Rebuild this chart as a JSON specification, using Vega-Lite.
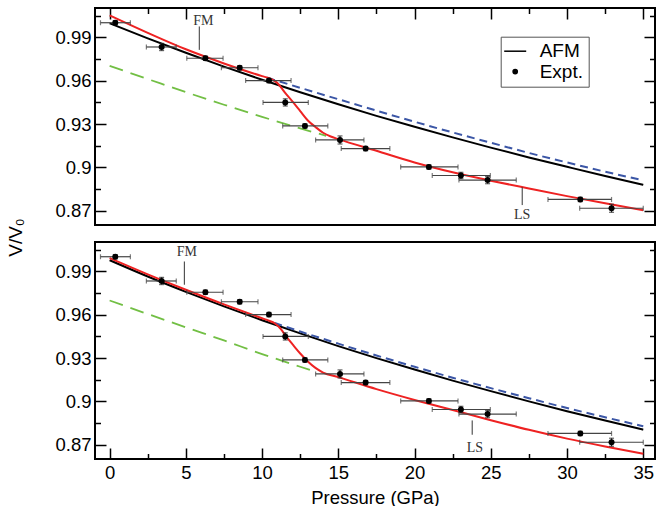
{
 "$schema": "https://vega.github.io/schema/vega-lite/v6.json",
 "padding": {"left": 5, "top": 5, "right": 0, "bottom": 0},
 "background": "white",
 "spacing": 17,
 "bounds": "flush",
 "config": {
  "view": {"stroke": "black", "strokeWidth": 2},
  "font": "Liberation Sans",
  "axis": {"domain": false, "grid": false, "tickColor": "black", "tickWidth": 1.5, "labelColor": "black", "labelFont": "Liberation Sans", "labelFontSize": 18.5, "titleFont": "Liberation Sans", "titleFontWeight": "normal", "titleColor": "black", "labelOverlap": false, "labelFlush": false, "labelBound": false}
 },
 "datasets": {
  "expt": [
   {"p": 0.37, "v": 1.0002, "xlo": -0.6, "xhi": 1.36, "ylo": 0.9987, "yhi": 1.0017},
   {"p": 3.41, "v": 0.9834, "xlo": 2.41, "xhi": 4.37, "ylo": 0.9809, "yhi": 0.9859},
   {"p": 6.28, "v": 0.9756, "xlo": 5.06, "xhi": 7.44, "ylo": 0.9741, "yhi": 0.9771},
   {"p": 8.53, "v": 0.969, "xlo": 7.33, "xhi": 9.73, "ylo": 0.9675, "yhi": 0.9705},
   {"p": 10.45, "v": 0.9601, "xlo": 8.92, "xhi": 11.9, "ylo": 0.9586, "yhi": 0.9616},
   {"p": 11.52, "v": 0.945, "xlo": 10.06, "xhi": 13.03, "ylo": 0.9425, "yhi": 0.9475},
   {"p": 12.81, "v": 0.9287, "xlo": 11.35, "xhi": 14.31, "ylo": 0.9272, "yhi": 0.9302},
   {"p": 15.11, "v": 0.919, "xlo": 13.51, "xhi": 16.68, "ylo": 0.9162, "yhi": 0.9218},
   {"p": 16.79, "v": 0.913, "xlo": 15.19, "xhi": 18.38, "ylo": 0.9115, "yhi": 0.9145},
   {"p": 20.94, "v": 0.9003, "xlo": 19.09, "xhi": 22.85, "ylo": 0.8988, "yhi": 0.9018},
   {"p": 23.04, "v": 0.8944, "xlo": 21.16, "xhi": 24.97, "ylo": 0.8922, "yhi": 0.8966},
   {"p": 24.79, "v": 0.8912, "xlo": 22.91, "xhi": 26.67, "ylo": 0.8887, "yhi": 0.8937},
   {"p": 30.87, "v": 0.8778, "xlo": 28.75, "xhi": 32.92, "ylo": 0.8763, "yhi": 0.8793},
   {"p": 32.92, "v": 0.8717, "xlo": 30.83, "xhi": 35.0, "ylo": 0.8689, "yhi": 0.8745}
  ],
  "top_black": [
   {"p": 0, "v": 0.9998}, {"p": 2.5, "v": 0.9894}, {"p": 5, "v": 0.9794}, {"p": 7.5, "v": 0.9698}, {"p": 10, "v": 0.9607}, {"p": 12.5, "v": 0.952}, {"p": 15, "v": 0.9437}, {"p": 17.5, "v": 0.9357}, {"p": 20, "v": 0.9281}, {"p": 22.5, "v": 0.9208}, {"p": 25, "v": 0.9137}, {"p": 27.5, "v": 0.9069}, {"p": 30, "v": 0.9004}, {"p": 32.5, "v": 0.894}, {"p": 35, "v": 0.8879}
  ],
  "top_red": [
   {"p": 0, "v": 1.0053}, {"p": 2.5, "v": 0.9932}, {"p": 5, "v": 0.9818}, {"p": 7.5, "v": 0.972}, {"p": 10, "v": 0.9632}, {"p": 10.5, "v": 0.9616}, {"p": 11, "v": 0.9585}, {"p": 11.5, "v": 0.9518}, {"p": 12, "v": 0.9455}, {"p": 12.5, "v": 0.939}, {"p": 13, "v": 0.9325}, {"p": 13.5, "v": 0.928}, {"p": 14, "v": 0.924}, {"p": 14.5, "v": 0.9214}, {"p": 15, "v": 0.9196}, {"p": 17.5, "v": 0.9115}, {"p": 20, "v": 0.9034}, {"p": 22.5, "v": 0.8966}, {"p": 25, "v": 0.8908}, {"p": 27.5, "v": 0.8854}, {"p": 30, "v": 0.8801}, {"p": 32.5, "v": 0.8751}, {"p": 35, "v": 0.8703}
  ],
  "top_blue": [
   {"p": 10.34, "v": 0.9621}, {"p": 12.5, "v": 0.9551}, {"p": 15, "v": 0.9472}, {"p": 17.5, "v": 0.9393}, {"p": 20, "v": 0.9316}, {"p": 22.5, "v": 0.9242}, {"p": 25, "v": 0.9171}, {"p": 27.5, "v": 0.91}, {"p": 30, "v": 0.9034}, {"p": 32.5, "v": 0.897}, {"p": 35, "v": 0.891}
  ],
  "top_green": [
   {"p": 0, "v": 0.9703}, {"p": 2.5, "v": 0.9612}, {"p": 5, "v": 0.9521}, {"p": 7.5, "v": 0.9434}, {"p": 10, "v": 0.935}, {"p": 12.5, "v": 0.927}, {"p": 14.2, "v": 0.9219}
  ],
  "bot_black": [
   {"p": 0, "v": 0.9978}, {"p": 2.5, "v": 0.9865}, {"p": 5, "v": 0.9759}, {"p": 7.5, "v": 0.9658}, {"p": 10, "v": 0.9562}, {"p": 12.5, "v": 0.9471}, {"p": 15, "v": 0.9383}, {"p": 17.5, "v": 0.93}, {"p": 20, "v": 0.9221}, {"p": 22.5, "v": 0.9144}, {"p": 25, "v": 0.9071}, {"p": 27.5, "v": 0.9}, {"p": 30, "v": 0.8932}, {"p": 32.5, "v": 0.8867}, {"p": 35, "v": 0.8804}
  ],
  "bot_red": [
   {"p": 0, "v": 0.9993}, {"p": 2.5, "v": 0.988}, {"p": 5, "v": 0.9773}, {"p": 7.5, "v": 0.9672}, {"p": 10, "v": 0.9576}, {"p": 10.5, "v": 0.9557}, {"p": 10.8, "v": 0.9543}, {"p": 11.2, "v": 0.9505}, {"p": 11.6, "v": 0.9447}, {"p": 12, "v": 0.9395}, {"p": 12.5, "v": 0.9332}, {"p": 13, "v": 0.9277}, {"p": 13.5, "v": 0.9232}, {"p": 14, "v": 0.92}, {"p": 15, "v": 0.9168}, {"p": 17.5, "v": 0.9085}, {"p": 20, "v": 0.901}, {"p": 22.5, "v": 0.894}, {"p": 25, "v": 0.887}, {"p": 27.5, "v": 0.8803}, {"p": 30, "v": 0.8742}, {"p": 32.5, "v": 0.8688}, {"p": 35, "v": 0.8638}
  ],
  "bot_blue": [
   {"p": 10.8, "v": 0.9544}, {"p": 12.5, "v": 0.9484}, {"p": 15, "v": 0.94}, {"p": 17.5, "v": 0.9318}, {"p": 20, "v": 0.924}, {"p": 22.5, "v": 0.9164}, {"p": 25, "v": 0.9092}, {"p": 27.5, "v": 0.9022}, {"p": 30, "v": 0.8954}, {"p": 32.5, "v": 0.889}, {"p": 35, "v": 0.8828}
  ],
  "bot_green": [
   {"p": 0, "v": 0.9699}, {"p": 2.5, "v": 0.9605}, {"p": 5, "v": 0.9513}, {"p": 7.5, "v": 0.9422}, {"p": 10, "v": 0.9328}, {"p": 12.5, "v": 0.924}, {"p": 13.3, "v": 0.9212}
  ],
  "top_text": [{"p": 6.14, "v": 1.0015, "t": "FM"}, {"p": 27.06, "v": 0.867, "t": "LS"}],
  "top_lead": [{"p": 5.88, "v": 0.9976, "v2": 0.9814}, {"p": 27.06, "v": 0.8862, "v2": 0.8739}],
  "bot_text": [{"p": 5.06, "v": 1.0032, "t": "FM"}, {"p": 23.96, "v": 0.8677, "t": "LS"}],
  "bot_lead": [{"p": 4.9, "v": 0.9969, "v2": 0.9808}, {"p": 23.78, "v": 0.8868, "v2": 0.8769}]
 },
 "vconcat": [
  {
   "width": 560, "height": 217,
   "resolve": {"axis": {"x": "independent", "y": "independent"}},
   "layer": [
    {"data": {"name": "top_black"}, "mark": {"type": "line", "strokeWidth": 2, "interpolate": "monotone"},
     "encoding": {
      "x": {"field": "p", "type": "quantitative", "scale": {"domain": [-0.96, 35.77], "nice": false, "zero": false},
            "axis": {"orient": "top", "values": [0,2.5,5,7.5,10,12.5,15,17.5,20,22.5,25,27.5,30,32.5,35], "labels": false, "title": null,
                     "tickSize": {"condition": {"test": "datum.value % 5 === 0", "value": -11}, "value": -5.5}}},
      "y": {"field": "v", "type": "quantitative", "scale": {"domain": [0.8601, 1.0104], "nice": false, "zero": false},
            "axis": {"orient": "left", "values": [0.87,0.885,0.9,0.915,0.93,0.945,0.96,0.975,0.99,1.005],
                     "tickSize": {"condition": {"test": "round(datum.value*1000) % 30 === 0", "value": -11}, "value": -5.5},
                     "labelExpr": "round(datum.value*1000) % 30 === 0 ? format(datum.value, '.2~f') : ''",
                     "labelPadding": 15, "title": "V/V₀", "titleFontSize": 19, "titleX": -70, "titleY": 229}},
      "color": {"datum": "AFM", "scale": {"domain": ["AFM", "Expt."], "range": ["black", "black"]},
                "legend": {"orient": "none", "legendX": 405.7, "legendY": 28.7, "title": null, "labelFontSize": 19, "labelFont": "Liberation Sans", "labelColor": "black",
                           "symbolSize": 484, "symbolType": "stroke", "symbolStrokeWidth": 1.5, "labelOffset": 15, "padding": 5, "rowPadding": 0.4,
                           "strokeColor": "#555", "fillColor": "white",
                           "encode": {"symbols": {"update": {"shape": {"signal": "datum.value === 'AFM' ? 'stroke' : 'circle'"}, "size": {"signal": "datum.value === 'AFM' ? 484 : 18"}, "fill": {"signal": "datum.value === 'AFM' ? 'transparent' : 'black'"}, "stroke": {"value": "black"}, "strokeWidth": {"value": 1.5}, "opacity": {"value": 1}}}}}}
     }},
    {"data": {"name": "top_blue"}, "mark": {"type": "line", "color": "#3b56a6", "strokeWidth": 2, "strokeDash": [8, 5], "interpolate": "monotone"},
     "encoding": {
      "x": {"field": "p", "type": "quantitative", "axis": null},
      "y": {"field": "v", "type": "quantitative",
            "axis": {"orient": "right", "values": [0.87,0.885,0.9,0.915,0.93,0.945,0.96,0.975,0.99,1.005], "labels": false, "title": null,
                     "tickSize": {"condition": {"test": "round(datum.value*1000) % 30 === 0", "value": -11}, "value": -5.5}}}
     }},
    {"data": {"name": "top_green"}, "mark": {"type": "line", "color": "#72bf44", "strokeWidth": 1.8, "strokeDash": [14, 8], "interpolate": "monotone"},
     "encoding": {"x": {"field": "p", "type": "quantitative", "axis": null}, "y": {"field": "v", "type": "quantitative", "axis": null}}},
    {"data": {"name": "top_red"}, "mark": {"type": "line", "color": "#ee2222", "strokeWidth": 2, "interpolate": "monotone"},
     "encoding": {"x": {"field": "p", "type": "quantitative", "axis": null}, "y": {"field": "v", "type": "quantitative", "axis": null}}},
    {"data": {"name": "expt"}, "mark": {"type": "errorbar", "ticks": true, "color": "#444", "thickness": 1.2},
     "encoding": {"x": {"field": "xlo", "type": "quantitative", "axis": null}, "x2": {"field": "xhi"}, "y": {"field": "v", "type": "quantitative", "axis": null}}},
    {"data": {"name": "expt"}, "mark": {"type": "errorbar", "ticks": true, "color": "#222", "thickness": 1.2},
     "encoding": {"y": {"field": "ylo", "type": "quantitative", "axis": null}, "y2": {"field": "yhi"}, "x": {"field": "p", "type": "quantitative", "axis": null}}},
    {"data": {"name": "expt"}, "mark": {"type": "point", "filled": true, "size": 36, "opacity": 1},
     "encoding": {"x": {"field": "p", "type": "quantitative", "axis": null}, "y": {"field": "v", "type": "quantitative", "axis": null}, "color": {"datum": "Expt."}}},
    {"data": {"name": "top_lead"}, "mark": {"type": "rule", "color": "#333", "strokeWidth": 1},
     "encoding": {"x": {"field": "p", "type": "quantitative", "axis": null}, "y": {"field": "v", "type": "quantitative", "axis": null}, "y2": {"field": "v2"}}},
    {"data": {"name": "top_text"}, "mark": {"type": "text", "font": "Liberation Serif", "fontSize": 14, "color": "#333", "baseline": "middle", "align": "center"},
     "encoding": {"x": {"field": "p", "type": "quantitative", "axis": null}, "y": {"field": "v", "type": "quantitative", "axis": null}, "text": {"field": "t"}}}
   ]
  },
  {
   "width": 560, "height": 217,
   "resolve": {"axis": {"x": "independent", "y": "independent"}},
   "layer": [
    {"data": {"name": "bot_black"}, "mark": {"type": "line", "color": "black", "strokeWidth": 2, "interpolate": "monotone"},
     "encoding": {
      "x": {"field": "p", "type": "quantitative", "scale": {"domain": [-0.96, 35.77], "nice": false, "zero": false},
            "axis": {"orient": "bottom", "values": [0,2.5,5,7.5,10,12.5,15,17.5,20,22.5,25,27.5,30,32.5,35],
                     "tickSize": {"condition": {"test": "datum.value % 5 === 0", "value": -11}, "value": -5.5},
                     "labelExpr": "datum.value % 5 === 0 ? format(datum.value, 'd') : ''",
                     "labelPadding": 15, "title": "Pressure (GPa)", "titleFontSize": 18.5, "titlePadding": 1}},
      "y": {"field": "v", "type": "quantitative", "scale": {"domain": [0.8601, 1.0104], "nice": false, "zero": false},
            "axis": {"orient": "left", "values": [0.87,0.885,0.9,0.915,0.93,0.945,0.96,0.975,0.99,1.005],
                     "tickSize": {"condition": {"test": "round(datum.value*1000) % 30 === 0", "value": -11}, "value": -5.5},
                     "labelExpr": "round(datum.value*1000) % 30 === 0 ? format(datum.value, '.2~f') : ''",
                     "labelPadding": 15, "title": null}}
     }},
    {"data": {"name": "bot_blue"}, "mark": {"type": "line", "color": "#3b56a6", "strokeWidth": 2, "strokeDash": [8, 5], "interpolate": "monotone"},
     "encoding": {
      "x": {"field": "p", "type": "quantitative", "axis": null},
      "y": {"field": "v", "type": "quantitative",
            "axis": {"orient": "right", "values": [0.87,0.885,0.9,0.915,0.93,0.945,0.96,0.975,0.99,1.005], "labels": false, "title": null,
                     "tickSize": {"condition": {"test": "round(datum.value*1000) % 30 === 0", "value": -11}, "value": -5.5}}}
     }},
    {"data": {"name": "bot_green"}, "mark": {"type": "line", "color": "#72bf44", "strokeWidth": 1.8, "strokeDash": [14, 8], "interpolate": "monotone"},
     "encoding": {"x": {"field": "p", "type": "quantitative", "axis": null}, "y": {"field": "v", "type": "quantitative", "axis": null}}},
    {"data": {"name": "bot_red"}, "mark": {"type": "line", "color": "#ee2222", "strokeWidth": 2, "interpolate": "monotone"},
     "encoding": {"x": {"field": "p", "type": "quantitative", "axis": null}, "y": {"field": "v", "type": "quantitative", "axis": null}}},
    {"data": {"name": "expt"}, "mark": {"type": "errorbar", "ticks": true, "color": "#444", "thickness": 1.2},
     "encoding": {"x": {"field": "xlo", "type": "quantitative", "axis": null}, "x2": {"field": "xhi"}, "y": {"field": "v", "type": "quantitative", "axis": null}}},
    {"data": {"name": "expt"}, "mark": {"type": "errorbar", "ticks": true, "color": "#222", "thickness": 1.2},
     "encoding": {"y": {"field": "ylo", "type": "quantitative", "axis": null}, "y2": {"field": "yhi"}, "x": {"field": "p", "type": "quantitative", "axis": null}}},
    {"data": {"name": "expt"}, "mark": {"type": "point", "filled": true, "size": 36, "opacity": 1, "color": "black"},
     "encoding": {"x": {"field": "p", "type": "quantitative", "axis": null}, "y": {"field": "v", "type": "quantitative", "axis": null}}},
    {"data": {"name": "bot_lead"}, "mark": {"type": "rule", "color": "#333", "strokeWidth": 1},
     "encoding": {"x": {"field": "p", "type": "quantitative", "axis": null}, "y": {"field": "v", "type": "quantitative", "axis": null}, "y2": {"field": "v2"}}},
    {"data": {"name": "bot_text"}, "mark": {"type": "text", "font": "Liberation Serif", "fontSize": 14, "color": "#333", "baseline": "middle", "align": "center"},
     "encoding": {"x": {"field": "p", "type": "quantitative", "axis": null}, "y": {"field": "v", "type": "quantitative", "axis": null}, "text": {"field": "t"}}}
   ]
  }
 ]
}
